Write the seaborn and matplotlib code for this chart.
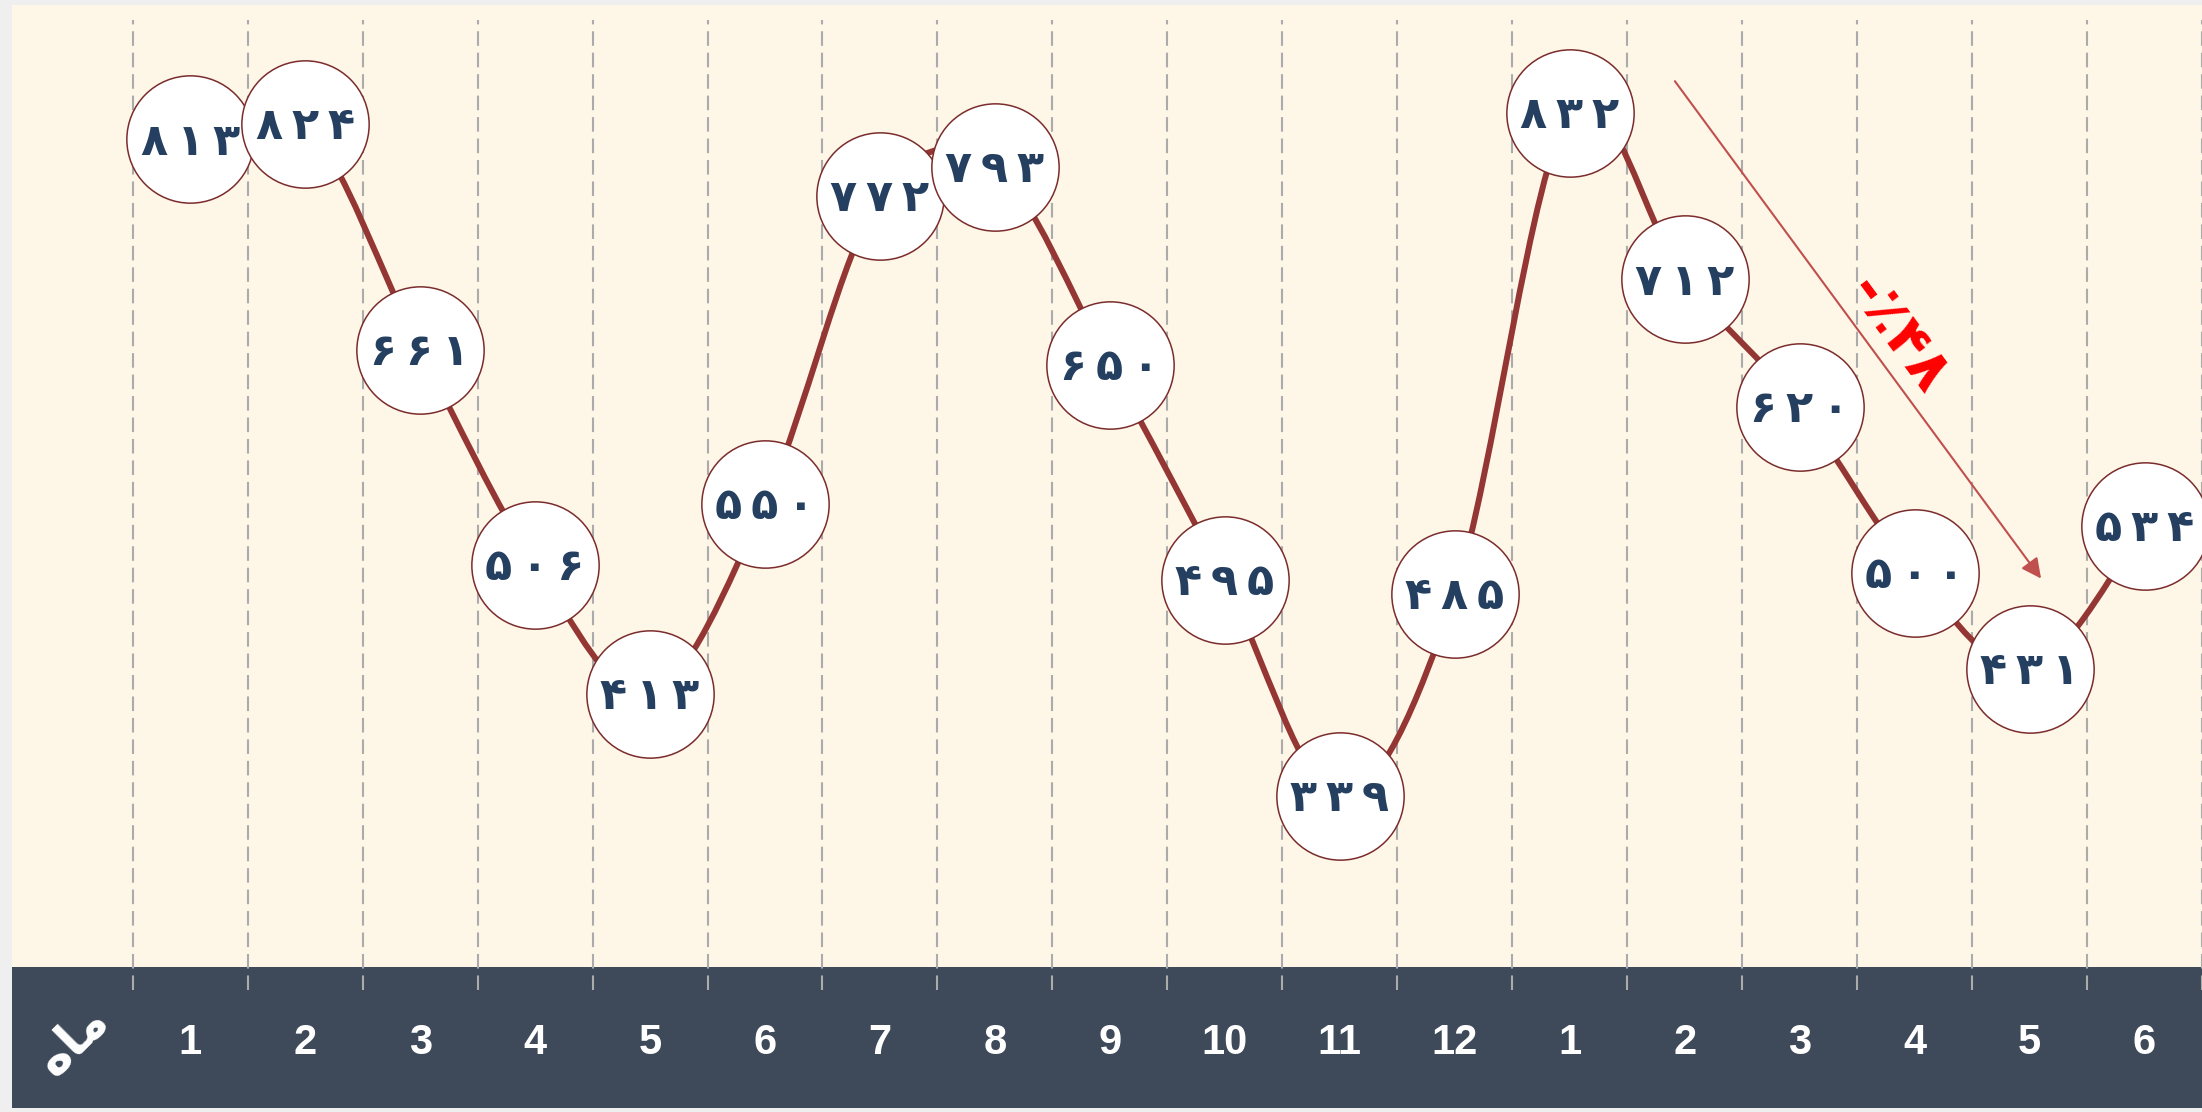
import numpy as np
import pandas as pd
import matplotlib.pyplot as plt
import seaborn as sns
from matplotlib.path import Path
from matplotlib.patches import PathPatch

# data
months = ['1', '2', '3', '4', '5', '6', '7', '8', '9', '10', '11', '12', '1', '2', '3', '4', '5', '6']
values = [813, 824, 661, 506, 413, 550, 772, 793, 650, 495, 339, 485, 832, 712, 620, 500, 431, 534]
axis_label = 'ﻩﺎﻣ'  # ماه, shaped glyphs in visual order
change_label = '-٪۴۸'

to_fa = str.maketrans('0123456789', '۰۱۲۳۴۵۶۷۸۹')

df = pd.DataFrame({'idx': np.arange(len(values)), 'value': values})

sns.set_theme(style='white')
plt.rcParams['font.family'] = ['DejaVu Sans']

fig = plt.figure(figsize=(22.02, 11.12), dpi=100, facecolor='#efefef')
ax = fig.add_axes([12 / 2202, 4 / 1112, 1 - 12 / 2202, 1103 / 1112])
ax.set_facecolor('#FEF6E7')
ax.set_xlim(-1.55, 17.5)
ax.set_ylim(113.8, 910)

# dark month band
ax.axhspan(113.8, 215.6, color='#3E4A59', zorder=1, lw=0)

# dashed separators
ax.vlines(np.arange(len(values) + 1) - 0.5, 199, 899, colors='#ABABAB',
          linestyles=(0, (7, 3.3)), lw=1.5, zorder=2)

# smooth line (catmull-rom as bezier segments)
pts = df[['idx', 'value']].to_numpy(dtype=float)
ext = np.vstack([pts[0], pts, pts[-1]])
verts = [pts[0]]
codes = [Path.MOVETO]
for i in range(len(pts) - 1):
    p0, p1, p2, p3 = ext[i], ext[i + 1], ext[i + 2], ext[i + 3]
    verts += [p1 + (p2 - p0) / 6, p2 - (p3 - p1) / 6, p2]
    codes += [Path.CURVE4] * 3
ax.add_patch(PathPatch(Path(verts, codes), fill=False, edgecolor='#943634',
                       lw=4.3, zorder=3, capstyle='round'))

sns.scatterplot(data=df, x='idx', y='value', s=8400, color='white',
                edgecolor='#7B2C2C', linewidth=1.1, zorder=4, legend=False, ax=ax)

for i, v in enumerate(values):
    ax.text(i, v - 2, '\u2009'.join(str(v).translate(to_fa)), ha='center', va='center',
            fontsize=32, fontweight='bold', color='#243F60', zorder=5)

for i, m in enumerate(months):
    ax.text(i, 161, m, ha='center', va='center', color='white', fontsize=30,
            fontweight='bold', family='Liberation Sans', zorder=5)
ax.text(-1.02, 163, axis_label, ha='center', va='center', color='white', fontsize=36,
        fontweight='bold', rotation=45, zorder=5)

# change arrow
peak = int(np.argmax(values[:17]))
low = int(np.argmin(values[13:17])) + 13
ax.annotate('', xy=(low + 0.1, values[low] + 65), xytext=(peak + 0.915, values[peak] + 23),
            arrowprops=dict(arrowstyle='-|>', color='#C0504D', lw=1.5, mutation_scale=30,
                            shrinkA=0, shrinkB=0), zorder=3)
ax.text(14.86, 672, change_label, ha='center', va='center', rotation=-53.6,
        rotation_mode='anchor', color='#FF0000', fontsize=42, fontweight='bold', zorder=5)

ax.set_xlabel('')
ax.set_ylabel('')
ax.set_xticks([])
ax.set_yticks([])
for s in ax.spines.values():
    s.set_visible(False)

fig.savefig('out.png', dpi=100, facecolor=fig.get_facecolor())
